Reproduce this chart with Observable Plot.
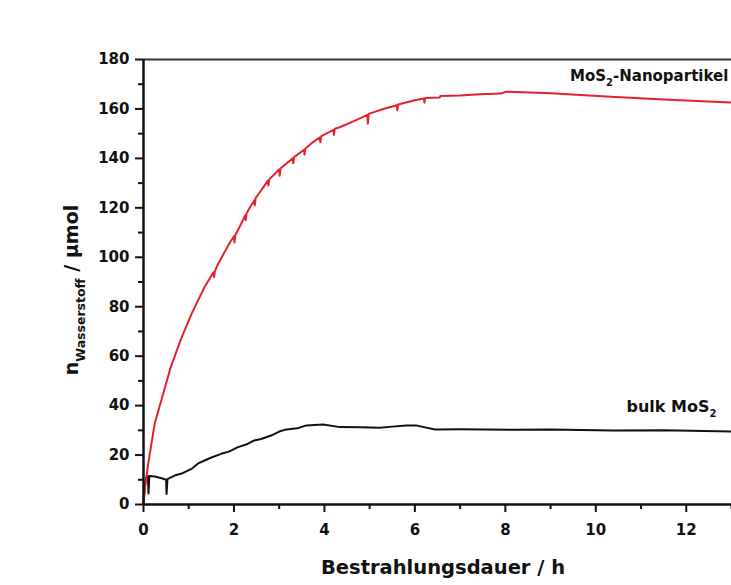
<!DOCTYPE html>
<html><head><meta charset="utf-8">
<script src="https://cdn.jsdelivr.net/npm/d3@7"></script>
<script src="https://cdn.jsdelivr.net/npm/@observablehq/plot@0.6"></script>
<style>body{margin:0;background:#fff} svg{display:block}</style>
</head><body><div id="chart"></div>
<script>
// Hydrogen evolution, MoS2 nanoparticles (red) vs bulk MoS2 (black)
const redHours  = [0,0.03,0.1,0.25,0.47,0.61,0.83,1.06,1.35,1.55,1.56,1.58,1.64,1.91,2.0,2.01,2.03,2.09,2.25,2.26,2.28,2.35,2.45,2.46,2.48,2.6,2.75,2.76,2.78,3.0,3.01,3.03,3.1,3.3,3.31,3.33,3.55,3.56,3.58,3.75,3.9,3.91,3.93,4.2,4.21,4.23,4.34,4.7,4.95,4.96,4.98,5.3,5.6,5.61,5.63,6.0,6.2,6.21,6.23,6.55,6.56,7.0,7.43,7.9,8.02,9.0,10.23,11.5,13];
const redValues = [0,6,16,33,47,56,67,77,88,94,92,94.5,97,106,108.5,106,109,111,117,115,117.8,120,123,121,124,127,131,129,131.5,135.5,133,136,137,140,138,140.5,143.5,141.5,144,146.6,148.5,146.5,149,151.5,149.5,152,152.6,155.5,157.6,154,158,160,161.5,159.5,161.8,163.5,164.2,162.5,164.4,164.6,165.2,165.4,165.9,166.2,167,166.3,165,163.8,162.6];

const blackHours  = [0,0.03,0.06,0.1,0.11,0.13,0.25,0.4,0.5,0.51,0.53,0.7,0.83,1.06,1.2,1.35,1.5,1.72,1.9,2.09,2.3,2.45,2.6,2.82,3.0,3.12,3.4,3.6,3.97,4.34,4.8,5.22,5.5,5.81,6.03,6.2,6.45,7.0,8.16,9.0,10.37,11.5,13];
const blackValues = [1,8,11,11.5,4.5,11.5,11.3,10.6,10,4.3,10.3,11.8,12.4,14.4,16.5,17.8,19,20.5,21.5,23.2,24.5,25.9,26.5,27.9,29.5,30.2,30.8,32,32.4,31.3,31.2,31.0,31.5,32,32,31.3,30.3,30.4,30.2,30.3,29.9,30.0,29.5];

const xTicks = [0,2,4,6,8,10,12];
const xMinorTicks = [1,3,5,7,9,11,13];
const yTicks = [0,20,40,60,80,100,120,140,160,180];
const yMinorTicks = [10,30,50,70,90,110,130,150,170];

const seriesNames = ["MoS", "bulk MoS"];
const seriesSuffix = ["-Nanopartikel", ""];
const labelHours = [9.44, 10.69];
const labelValues = [171, 37.3];
const labelSizes = [15, 16];

const red = redHours.map((t, i) => ({t, v: redValues[i]}));
const black = blackHours.map((t, i) => ({t, v: blackValues[i]}));

const chart = Plot.plot({
  width: 731, height: 585,
  marginLeft: 143, marginRight: 0, marginTop: 59, marginBottom: 81,
  x: {domain: [0, 13], label: null},
  y: {domain: [0, 180], label: null},
  style: {fontFamily: "'DejaVu Sans', sans-serif", fontWeight: "bold", fontSize: "15px", color: "#111", background: "white"},
  marks: [
    Plot.axisX(xMinorTicks, {tickSize: 5, text: null, strokeWidth: 2, label: null}),
    Plot.axisX(xTicks, {tickSize: 8, tickPadding: 12, strokeWidth: 2, label: null}),
    Plot.axisY(yMinorTicks, {tickSize: 5, text: null, strokeWidth: 2, label: null}),
    Plot.axisY(yTicks, {tickSize: 8, tickPadding: 6, strokeWidth: 2, label: null}),
    Plot.lineY(black, {x: "t", y: "v", stroke: "#111", strokeWidth: 2}),
    Plot.lineY(red, {x: "t", y: "v", stroke: "#e3232b", strokeWidth: 2}),
    Plot.ruleY([180], {stroke: "#333", strokeWidth: 2}),
    Plot.ruleX([0], {stroke: "#111", strokeWidth: 2.5}),
    Plot.ruleY([0], {stroke: "#111", strokeWidth: 2.5})
  ]
});

const svg = d3.select(chart);
const xs = chart.scale("x"), ys = chart.scale("y");

// series labels with subscript 2
seriesNames.forEach((name, i) => {
  const t = svg.append("text")
    .attr("x", xs.apply(labelHours[i]))
    .attr("y", ys.apply(labelValues[i]))
    .attr("text-anchor", "start")
    .attr("font-family", "'DejaVu Sans', sans-serif")
    .attr("font-weight", "bold")
    .attr("font-size", labelSizes[i])
    .attr("fill", "#111");
  t.append("tspan").text(name);
  t.append("tspan").attr("font-size", 10).attr("dy", 5).text("2");
  if (seriesSuffix[i]) t.append("tspan").attr("dy", -5).text(seriesSuffix[i]);
});

// x axis title
svg.append("text")
  .attr("x", (xs.apply(0) + 731) / 2 + 6)
  .attr("y", 574)
  .attr("text-anchor", "middle")
  .attr("font-family", "'DejaVu Sans', sans-serif")
  .attr("font-weight", "bold")
  .attr("font-size", 19.5)
  .attr("fill", "#111")
  .text("Bestrahlungsdauer / h");

// y axis title
const yt = svg.append("text")
  .attr("transform", "translate(78,290) rotate(-90)")
  .attr("text-anchor", "middle")
  .attr("font-family", "'DejaVu Sans', sans-serif")
  .attr("font-weight", "bold")
  .attr("font-size", 19)
  .attr("fill", "#111");
yt.append("tspan").text("n");
yt.append("tspan").attr("font-size", 12.5).attr("dy", 7).text("Wasserstoff");
yt.append("tspan").attr("dy", -7).text(" / µmol");

document.getElementById("chart").append(chart);
</script>
</body></html>
